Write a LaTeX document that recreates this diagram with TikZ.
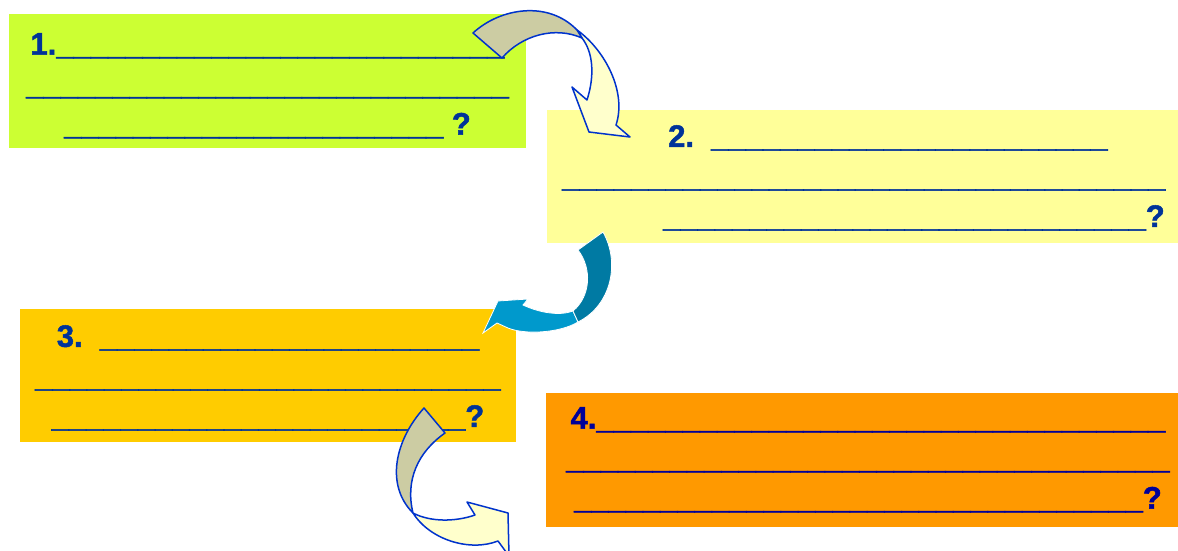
\documentclass[tikz,border=0pt]{standalone}
\usepackage{fontspec}
\setmainfont{Liberation Sans}[BoldFeatures={FakeBold=1.6}]
\usetikzlibrary{positioning}

\definecolor{panelgreen}{HTML}{CCFF33}
\definecolor{panelyellow}{HTML}{FFFF99}
\definecolor{panelgold}{HTML}{FFCC00}
\definecolor{panelorange}{HTML}{FF9900}
\definecolor{inkblue}{HTML}{003399}
\definecolor{inknavy}{HTML}{000099}
\definecolor{rimblue}{HTML}{0033CC}
\definecolor{khaki}{HTML}{CCCCA3}
\definecolor{cream}{HTML}{FFFFCC}
\definecolor{tealdark}{HTML}{007AA3}
\definecolor{teallight}{HTML}{0099CC}

\newcommand{\fillin}[1]{\foreach \k in {1,...,#1}{\_}}

\begin{document}
\begin{tikzpicture}[x=1pt, y=-1pt,
  panel/.style={inner sep=0pt, outer sep=0pt},
  blanks/.style={inner sep=0pt, align=center, text=inkblue,
    font=\fontsize{31}{40}\selectfont\bfseries},
  bentarrow/.style={draw=rimblue, line width=1.5pt, line join=round},
  swoosh/.style={draw=white, line width=0.8pt}]
  \clip (0,0) rectangle (1178,550);
  \node[panel, fill=panelgreen, minimum width=517pt, minimum height=134pt] (box1) at (267.5,81) {};
  \node[panel, fill=panelyellow, minimum width=631pt, minimum height=133pt] (box2) at (862.5,176.5) {};
  \node[panel, fill=panelgold, minimum width=496pt, minimum height=133pt] (box3) at (268,375.5) {};
  \node[panel, fill=panelorange, minimum width=632pt, minimum height=134pt] (box4) at (862,460) {};

  \node[blanks, below=19pt of box1.north] (txt1) {1.\fillin{26}\\ \fillin{28}\\ \fillin{22} ?};
  \node[blanks, align=left, below right=15pt and 15pt of box2.north west] (txt2)
    {\hspace*{106pt}2.\ \ \fillin{23}\\ \fillin{35}\\ \hspace*{101pt}\fillin{28}?};
  \node[blanks, below=16pt of box3.north] (txt3) {3.\ \ \fillin{22}\\ \fillin{27}\\ \fillin{24}?};
  \node[blanks, text=inknavy, below=14pt of box4.north, xshift=6pt] (txt4) {4.\fillin{33}\\ \fillin{35}\\ \fillin{33}?};

  \filldraw[bentarrow, fill=cream] (577,30) .. controls (605,50) and (627,92) .. (616,125)
    -- (630,137) -- (589,132) -- (572,87) -- (587,100) .. controls (595,75) and (593,52) .. (582,38) -- cycle;
  \filldraw[bentarrow, fill=khaki] (473,33) .. controls (500,8) and (548,0) .. (577,30)
    -- (582,38) .. controls (555,26) and (522,35) .. (502,58) -- cycle;

  \filldraw[swoosh, fill=teallight] (578,322) .. controls (560,333) and (525,335) .. (508,328)
    -- (497,323) -- (483,333) -- (498,301) -- (528,299) -- (523,305) .. controls (540,313) and (560,316) .. (573,311) -- cycle;
  \filldraw[swoosh, fill=tealdark] (603,232) .. controls (620,262) and (612,305) .. (578,322)
    -- (573,311) .. controls (591,296) and (592,268) .. (578,250) -- cycle;

  \filldraw[bentarrow, fill=cream] (413,513) .. controls (430,540) and (470,552) .. (498,541)
    -- (509,556) -- (508,513) -- (467,502) -- (475,515) .. controls (455,522) and (430,522) .. (413,513) -- cycle;
  \filldraw[bentarrow, fill=khaki] (424,408) .. controls (395,440) and (385,485) .. (413,513)
    .. controls (405,480) and (418,452) .. (445,433) -- cycle;
\end{tikzpicture}
\end{document}
